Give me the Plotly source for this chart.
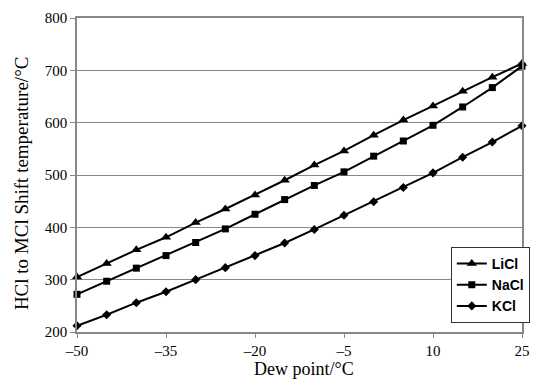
import plotly.graph_objects as go

dew_point = [-50, -45, -40, -35, -30, -25, -20, -15, -10, -5, 0, 5, 10, 15, 20, 25]
licl = [305, 331, 357, 381, 409, 435, 462, 490, 519, 546, 576, 605, 632, 660, 687, 713]
nacl = [272, 297, 322, 346, 371, 397, 425, 453, 480, 506, 536, 565, 595, 630, 667, 708]
kcl = [212, 233, 256, 277, 300, 323, 346, 370, 396, 423, 449, 476, 504, 534, 563, 594]

x_tickvals = [-50, -35, -20, -5, 10, 25]
x_ticktext = ["\u201350", "\u201335", "\u201320", "\u20135", "10", "25"]
y_tickvals = [200, 300, 400, 500, 600, 700, 800]

series = [("LiCl", licl, "triangle-up", 9), ("NaCl", nacl, "square", 7), ("KCl", kcl, "diamond", 7)]

fig = go.Figure()
for i, (name, vals, sym, sz) in enumerate(series):
    fig.add_trace(go.Scatter(
        x=dew_point, y=vals, name=name, mode="lines+markers",
        line=dict(color="black", width=2),
        marker=dict(symbol=sym, size=sz, color="black"),
        cliponaxis=False, legendgroup=name,
    ))

serif = "Liberation Serif"
fig.update_layout(
    width=539, height=380,
    margin=dict(l=77, r=9, t=18, b=48),
    plot_bgcolor="white", paper_bgcolor="white",
    font=dict(family=serif, size=15, color="black"),
    showlegend=True,
    legend=dict(
        x=0.84, y=0.271, xanchor="left", yanchor="top",
        bgcolor="white", bordercolor="#333333", borderwidth=1,
        font=dict(family="Liberation Sans", size=14, color="black", weight="bold"),
        itemwidth=30, tracegroupgap=0,
    ),
    xaxis=dict(
        range=[-50, 25], tickvals=x_tickvals, ticktext=x_ticktext,
        showgrid=False, zeroline=False, automargin=False,
        showline=True, linecolor="#888888", linewidth=1.5, mirror=True,
        ticks="outside", ticklen=4, tickcolor="#888888",
        tickfont=dict(family=serif, size=15, color="black"),
        ticklabeloverflow="allow",
    ),
    yaxis=dict(
        range=[200, 800], tickvals=y_tickvals, automargin=False,
        showgrid=True, gridcolor="#888888", gridwidth=1, zeroline=False,
        showline=True, linecolor="#888888", linewidth=1.5, mirror=True,
        ticks="outside", ticklen=5, tickcolor="#888888",
        tickfont=dict(family=serif, size=15, color="black"),
    ),
    annotations=[
        dict(text="Dew point/°C", xref="paper", yref="paper", x=0.51, y=-0.118,
             xanchor="center", yanchor="middle", showarrow=False,
             font=dict(family=serif, size=18)),
        dict(text="HCl to MCl Shift temperature/°C", xref="paper", yref="paper",
             x=-0.1256, y=0.4745, xanchor="center", yanchor="middle", showarrow=False,
             textangle=-90, font=dict(family=serif, size=19)),
    ],
)

fig.write_html("out.html")
